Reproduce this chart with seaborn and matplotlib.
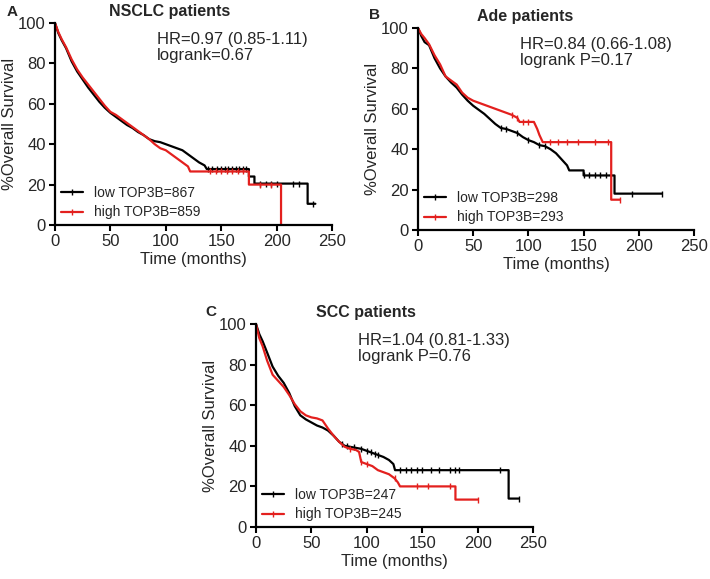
import numpy as np
import matplotlib
matplotlib.use("Agg")
import matplotlib.pyplot as plt
from matplotlib.lines import Line2D
import seaborn as sns

# ---- data (Kaplan-Meier outlines, % survival) ----
# Panel A: NSCLC
a_low_t = [0, 3, 6, 10, 15, 20, 25, 30, 35, 40, 45, 50, 55, 60, 65, 70, 75, 80, 85, 90, 95, 100,
           105, 110, 115, 120, 125, 130, 135, 137, 175, 175, 180, 180, 228, 228, 235]
a_low_s = [100, 95, 91.5, 87.5, 81, 76, 72, 68, 64.5, 61, 58, 55.5, 53.5, 51.5, 49.5, 48, 46, 44.5,
           42.5, 41.5, 41, 40, 39, 38, 37, 35, 33, 31, 29.5, 27.7, 27.7, 24, 24, 20.5, 20.5, 10.5, 10.5]
a_high_t = [0, 3, 6, 10, 15, 20, 25, 30, 35, 40, 45, 50, 55, 60, 65, 70, 75, 80, 85, 90, 95, 100,
            105, 110, 115, 120, 122, 175, 175, 204, 204]
a_high_s = [100, 95.5, 92, 88, 82, 77, 73, 69.5, 66, 62.5, 59, 56, 54.5, 52.5, 50.5, 48.5, 46.5, 44.5,
            42.5, 40, 38, 37, 35, 33, 31, 29, 26.5, 26.5, 20, 20, 0]
a_low_cens = [138, 142, 146, 150, 153, 156, 160, 163, 166, 170, 172, 185, 190, 195, 200, 215, 220, 233]
a_high_cens = [140, 145, 150, 155, 160, 165, 170, 185, 195]

# Panel B: Ade
b_low_t = [0, 3, 6, 10, 15, 20, 25, 30, 35, 40, 45, 50, 55, 60, 65, 70, 75, 80, 85, 90, 95, 100,
           105, 110, 115, 120, 125, 130, 135, 137, 150, 150, 178, 178, 221]
b_low_s = [100, 96, 93, 91.5, 85, 80, 76, 73, 70.5, 67, 64, 61.5, 59.5, 57.5, 55, 52.5, 50.5, 50,
           49, 48, 46, 44.5, 43.5, 42, 41.5, 40, 38, 35, 32, 29.5, 29.5, 27, 27, 18, 18]
b_high_t = [0, 3, 6, 10, 15, 20, 25, 30, 35, 40, 45, 50, 55, 60, 65, 70, 75, 80, 85, 90, 92, 105,
            108, 110, 113, 175, 175, 183]
b_high_s = [100, 97, 95, 92, 86.5, 82, 76, 74, 72, 68, 65.5, 64, 63, 62, 61, 60, 59, 58, 57, 55.5,
            53.5, 53.5, 50, 47, 43.5, 43.5, 15, 15]
b_low_cens = [75, 80, 90, 100, 110, 115, 150, 155, 160, 165, 170, 194, 221]
b_high_cens = [85, 90, 95, 100, 120, 127, 135, 145, 160, 172, 183]

# Panel C: SCC
c_low_t = [0, 3, 6, 10, 15, 20, 25, 30, 35, 40, 45, 50, 55, 60, 65, 70, 75, 80, 85, 90, 95, 100,
           105, 110, 115, 120, 124, 125.5, 228, 228, 237]
c_low_s = [100, 95, 91.5, 86, 79, 74.5, 71, 66, 59.5, 55, 53, 51.5, 50, 49, 47.5, 45, 42, 40, 39.5,
           39, 38.5, 37.5, 36.5, 35.5, 34.5, 33, 31, 28, 28, 14, 14]
c_high_t = [0, 3, 6, 10, 15, 20, 25, 30, 35, 40, 45, 50, 55, 60, 65, 70, 75, 80, 85, 90, 93, 95,
            100, 105, 110, 115, 120, 125, 128, 130, 180, 180, 200]
c_high_s = [100, 93, 89, 82, 75, 72, 69, 65, 60.5, 57, 55, 54, 53.5, 52.5, 48.5, 45, 42, 39.5, 38.5,
            38, 37, 32, 31, 30, 28, 27, 26, 24, 22, 20, 20, 13.5, 13.5]
c_low_cens = [78, 82, 88, 95, 100, 104, 107, 110, 130, 135, 140, 145, 150, 158, 165, 175, 180, 183, 220, 237]
c_high_cens = [85, 95, 100, 125, 145, 155, 175, 200]

titles = ["NSCLC patients", "Ade patients", "SCC patients"]
letters = ["A", "B", "C"]
stats = ["HR=0.97 (0.85-1.11)\nlogrank=0.67",
         "HR=0.84 (0.66-1.08)\nlogrank P=0.17",
         "HR=1.04 (0.81-1.33)\nlogrank P=0.76"]
low_labels = ["low TOP3B=867", "low TOP3B=298", "low TOP3B=247"]
high_labels = ["high TOP3B=859", "high TOP3B=293", "high TOP3B=245"]

sns.set_style("ticks")
plt.rcParams["font.family"] = ["Liberation Sans", "DejaVu Sans"]

BLACK = "#000000"
RED = "#e3201e"

W, H = 710, 579
fig = plt.figure(figsize=(W / 100, H / 100), dpi=100)

# axes boxes in pixels: left, top, right, bottom
boxes = [(55, 23, 332, 225), (418, 28, 694, 230), (256, 324, 533, 527)]
# panel letter and title positions (pixels, baseline)
letter_pos = [(7, 16), (369, 19), (205, 316)]
title_x = [170, 525, 366]

panels = [
    (a_low_t, a_low_s, a_low_cens, a_high_t, a_high_s, a_high_cens),
    (b_low_t, b_low_s, b_low_cens, b_high_t, b_high_s, b_high_cens),
    (c_low_t, c_low_s, c_low_cens, c_high_t, c_high_s, c_high_cens),
]

for i, (lt, ls, lc, ht, hs, hc) in enumerate(panels):
    l, t, r, b = boxes[i]
    ax = fig.add_axes([l / W, 1 - b / H, (r - l) / W, (b - t) / H])

    for tt, ss, cc, col in [(lt, ls, lc, BLACK), (ht, hs, hc, RED)]:
        sns.lineplot(x=tt, y=ss, sort=False, estimator=None, color=col, lw=1.6, ax=ax)
        cy = np.interp(cc, tt, ss)
        ax.plot(cc, cy, ls="none", marker="|", ms=5, mew=1.0, color=col)

    ax.set_xlim(0, 250)
    ax.set_ylim(0, 100)
    ax.set_xticks([0, 50, 100, 150, 200, 250])
    ax.set_yticks([0, 20, 40, 60, 80, 100])
    ax.tick_params(labelsize=12, length=4.5, width=1.5, color="black", pad=2)
    for sp in ["left", "bottom"]:
        ax.spines[sp].set_linewidth(1.6)
        ax.spines[sp].set_color("black")
    sns.despine(ax=ax)
    ax.set_xlabel("Time (months)", fontsize=12, labelpad=2)
    ax.set_ylabel("%Overall Survival", fontsize=12, labelpad=1)

    ax.text(0.368, 0.955, stats[i], transform=ax.transAxes, fontsize=12, va="top", ha="left",
            linespacing=1.1)

    handles = [Line2D([0], [0], color=BLACK, lw=1.6, marker="|", ms=5, mew=1.0),
               Line2D([0], [0], color=RED, lw=1.6, marker="|", ms=5, mew=1.0)]
    ax.legend(handles, [low_labels[i], high_labels[i]], loc="lower left", bbox_to_anchor=(0.0, 0.0),
              frameon=False, fontsize=10, handlelength=1.6, handletextpad=0.8, labelspacing=0.4,
              borderaxespad=0.2, borderpad=0.2)

    fig.text(letter_pos[i][0] / W, 1 - letter_pos[i][1] / H, letters[i], fontsize=11,
             fontweight="bold", va="baseline", ha="left")
    fig.text(title_x[i] / W, 1 - (t - 7) / H, titles[i], fontsize=11.5, fontweight="bold",
             va="baseline", ha="center")

fig.savefig("out.png", dpi=100)
